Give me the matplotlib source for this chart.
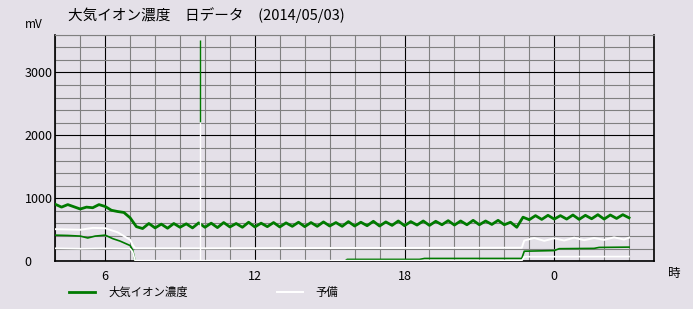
import numpy as np
import matplotlib.pyplot as plt
from matplotlib.ticker import MultipleLocator

plt.rcParams['font.family'] = ['Noto Sans CJK JP', 'DejaVu Sans']

# Hours of the day (4 = 04:00, 24 = next day 00:00), sampled every 15 min
ion_hours = np.arange(4.0, 27.001, 0.25)
ion_main = [905, 860, 900, 865, 830, 860, 850, 900, 870, 810, 790, 775, 690,
            550,
            520, 600, 530, 590, 525, 600, 540, 595, 530, 610, 540, 605, 535,
            615, 545, 600, 540, 620, 545, 605, 550, 615, 545, 610, 555, 620,
            550, 615, 555, 625, 560, 615, 555, 630, 560, 620, 565, 635, 560,
            625, 570, 640, 565, 630, 575, 640, 570, 635, 580, 645, 575, 640,
            580, 650, 580, 640, 585, 650, 580, 620, 540, 700,
            660, 725, 665, 730, 670, 725, 670, 735, 665, 730, 675, 740, 670,
            735, 680, 740, 690]

ion_low_hours = [4.0, 4.5, 5.0, 5.3, 5.6, 6.0, 6.3, 6.6, 7.0, 7.1, 7.2, 15.6,
                 15.7, 18.6, 18.8, 22.7, 22.8, 24.0, 24.2, 25.6, 25.8, 27.0]
ion_low = [415, 410, 400, 370, 400, 415, 360, 320, 250, 180, 0, 0,
           30, 30, 45, 45, 160, 170, 200, 205, 220, 225]

spare_hours = [4.0, 4.5, 5.0, 5.5, 6.0, 6.5, 7.0, 7.1, 7.2, 10.0, 14.0, 18.0,
               22.7, 22.8, 23.2, 23.6, 24.0, 24.4, 24.8, 25.2, 25.6, 26.0,
               26.4, 26.8, 27.0]
spare_main = [510, 505, 500, 530, 525, 460, 340, 260, 206, 206, 210, 212,
              215, 330, 370, 325, 365, 330, 375, 335, 370, 340, 380, 345, 375]

spare_low_hours = [4.0, 5.0, 6.0, 7.0, 7.1, 7.2, 12.0, 18.0, 22.7, 22.8, 27.0]
spare_low = [206, 200, 205, 200, 150, 10, 10, 10, 10, 73, 75]

spike_hour = 9.8
spike_ion = 3510
spike_spare = 2215

x_ticks = [6, 12, 18, 24]
x_tick_labels = ['6', '12', '18', '0']
y_ticks = [0, 1000, 2000, 3000]

bg = '#E4E0E8'
green = '#007A00'

fig = plt.figure(figsize=(6.93, 3.09), dpi=100, facecolor=bg)
ax = fig.add_axes([0.0798, 0.1544, 0.8639, 0.7339], facecolor=bg)

ax.plot(ion_low_hours, ion_low, color=green, lw=1.2, zorder=3)
g_line, = ax.plot(ion_hours, ion_main, color=green, lw=2.0, zorder=3,
                  label='大気イオン濃度')
ax.vlines(spike_hour, spike_spare, spike_ion, color=green, lw=1.0, zorder=3)
w_line, = ax.plot(spare_hours, spare_main, color='white', lw=1.4, zorder=4,
                  label='予備')
ax.plot(spare_low_hours, spare_low, color='white', lw=1.2, zorder=4)
ax.vlines(spike_hour, 0, spike_spare, color='white', lw=1.0, zorder=4)

ax.set_xlim(4, 28)
ax.set_ylim(0, 3600)

ax.set_xticks(x_ticks)
ax.set_xticklabels(x_tick_labels)
ax.xaxis.set_minor_locator(MultipleLocator(1))
ax.set_yticks(y_ticks)
ax.yaxis.set_minor_locator(MultipleLocator(200))
ax.grid(which='minor', color='#808080', lw=0.8, zorder=1)
ax.grid(which='major', color='black', lw=0.8, zorder=1.5)
ax.set_axisbelow(True)
ax.tick_params(which='both', length=0, labelsize=9)
ax.tick_params(axis='x', pad=6)
ax.tick_params(axis='y', pad=22)
for lab in ax.get_yticklabels():
    lab.set_horizontalalignment('left')

for side in ['left', 'bottom', 'right']:
    ax.spines[side].set_color('black')
    ax.spines[side].set_linewidth(1.2)
ax.spines['top'].set_color('#808080')
ax.spines['top'].set_linewidth(0.8)

fig.text(68 / 693, 1 - 15 / 309, '大気イオン濃度　日データ　(2014/05/03)',
         fontsize=10.5, va='center', ha='left')
fig.text(25 / 693, 1 - 25 / 309, 'mV', fontsize=8.5, va='center', ha='left')
fig.text(668 / 693, 1 - 273 / 309, '時', fontsize=9, va='center', ha='left')

fig.legend(handles=[g_line, w_line], labels=['大気イオン濃度', '予備'], ncol=2,
           loc='center left', bbox_to_anchor=(59 / 693, 1 - 292 / 309),
           frameon=False, fontsize=8.2, handlelength=2.3, handletextpad=1.1,
           columnspacing=7.85)

fig.savefig('out.png', dpi=100, facecolor=bg)
